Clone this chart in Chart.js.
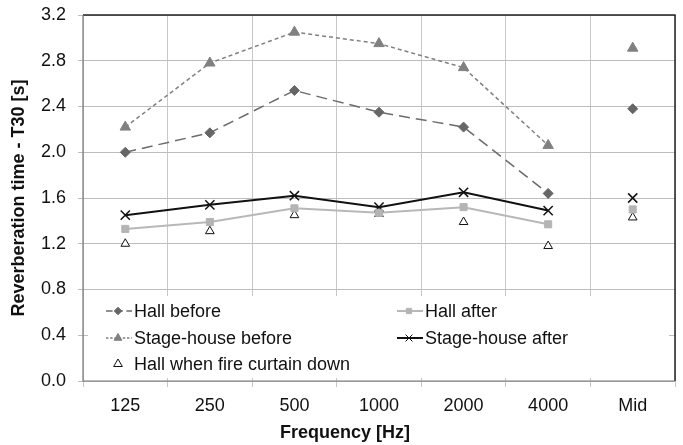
<!DOCTYPE html>
<html>
<head>
<meta charset="utf-8">
<script src="https://cdn.jsdelivr.net/npm/chart.js@4"></script>
<style>
  html, body { margin: 0; padding: 0; background: #fff; }
  #wrap { width: 683px; height: 445px; }
</style>
</head>
<body>
<div id="wrap"><canvas id="chart" width="683" height="445"></canvas></div>
<script>
'use strict';

// ── Data ─────────────────────────────────────────────────────
const categories  = ['125', '250', '500', '1000', '2000', '4000', 'Mid'];
const hallBefore  = [2.00, 2.17, 2.54, 2.35, 2.22, 1.64, 2.38];
const hallAfter   = [1.33, 1.39, 1.51, 1.47, 1.52, 1.37, 1.50];
const stageBefore = [2.22, 2.78, 3.05, 2.95, 2.74, 2.06, 2.91];
const stageAfter  = [1.45, 1.54, 1.62, 1.52, 1.65, 1.49, 1.60];
const hallCurtain = [1.20, 1.31, 1.45, 1.46, 1.39, 1.18, 1.43];
const yTicks      = [0.0, 0.4, 0.8, 1.2, 1.6, 2.0, 2.4, 2.8, 3.2];

const FONT = 'Arial, "Liberation Sans", sans-serif';

// the Mid column is not joined to the 4000 Hz point
const skipMid = color => ctx => ctx.p1DataIndex === categories.length - 1 ? 'rgba(0,0,0,0)' : color;

const series = [
  { label: 'Hall before', data: hallBefore, color: '#6b6b6b', width: 1.5, dash: [11, 6],
    point: 'rectRot', radius: 5, fill: '#666' },
  { label: 'Hall after', data: hallAfter, color: '#b8b8b8', width: 2, dash: [],
    point: 'rect', radius: 5, fill: '#b4b4b4' },
  { label: 'Stage-house before', data: stageBefore, color: '#808080', width: 1.5, dash: [4, 3],
    point: 'triangle', radius: 6, fill: '#808080' },
  { label: 'Stage-house after', data: stageAfter, color: '#111', width: 2, dash: [],
    point: 'crossRot', radius: 6.5, fill: '#111' },
  { label: 'Hall when fire curtain down', data: hallCurtain, color: '#111', width: 1, dash: [],
    point: 'triangle', radius: 5, fill: '#fff', noLine: true }
];

const datasets = series.map(s => ({
  label: s.label,
  data: s.data,
  showLine: !s.noLine,
  borderColor: s.color,
  borderWidth: s.width,
  borderDash: s.dash,
  tension: 0,
  segment: { borderColor: skipMid(s.color) },
  pointStyle: s.point,
  pointRadius: s.radius,
  pointHoverRadius: s.radius,
  pointBackgroundColor: s.fill,
  pointBorderColor: s.noLine ? '#111' : s.fill,
  pointBorderWidth: s.noLine ? 1 : (s.point === 'crossRot' ? 1.5 : 1)
}));

// ── Legend box inside the plot ───────────────────────────────
const legendSlots = [
  { x: 106, y: 311 }, { x: 397, y: 311 },
  { x: 106, y: 338 }, { x: 397, y: 338 },
  { x: 106, y: 364 }
];

const insideLegend = {
  id: 'insideLegend',
  beforeDatasetsDraw(chart) {
    const ctx = chart.ctx;
    ctx.save();
    ctx.fillStyle = '#fff';
    ctx.fillRect(88, 296, 581, 82);
    ctx.font = '18px ' + FONT;
    ctx.textBaseline = 'middle';
    series.forEach((s, i) => {
      const p = legendSlots[i];
      if (!s.noLine) {
        ctx.strokeStyle = s.color;
        ctx.lineWidth = s.width;
        ctx.setLineDash(s.dash.length ? [s.dash[0] * 0.6, s.dash[1] * 0.6] : []);
        ctx.beginPath();
        ctx.moveTo(p.x, p.y);
        ctx.lineTo(p.x + 26, p.y);
        ctx.stroke();
        ctx.setLineDash([]);
      }
      ctx.fillStyle = s.fill;
      ctx.strokeStyle = s.noLine ? '#111' : s.fill;
      ctx.lineWidth = 1;
      Chart.helpers.drawPoint(ctx, {
        pointStyle: s.point, radius: s.radius * (s.noLine ? 1 : 0.75), rotation: 0, borderWidth: 1
      }, p.x + 12, p.y);
      ctx.fillStyle = '#111';
      ctx.textAlign = 'left';
      ctx.fillText(s.label, p.x + 28, p.y + 1);
    });
    ctx.restore();
  },
  afterDraw(chart) {
    const { ctx, chartArea: a } = chart;
    ctx.save();
    // frame
    ctx.lineWidth = 1.5;
    ctx.strokeStyle = '#222';
    ctx.beginPath();
    ctx.moveTo(a.left, a.top);
    ctx.lineTo(a.right, a.top);
    ctx.lineTo(a.right, a.bottom);
    ctx.stroke();
    ctx.strokeStyle = '#777';
    ctx.lineWidth = 1.2;
    ctx.beginPath();
    ctx.moveTo(a.left, a.top);
    ctx.lineTo(a.left, a.bottom);
    ctx.lineTo(a.right, a.bottom);
    ctx.stroke();
    // axis titles
    ctx.fillStyle = '#111';
    ctx.font = 'bold 18px ' + FONT;
    ctx.textAlign = 'center';
    ctx.textBaseline = 'middle';
    ctx.fillText('Frequency [Hz]', 345, 433);
    ctx.translate(19, (a.top + a.bottom) / 2);
    ctx.rotate(-Math.PI / 2);
    ctx.fillText('Reverberation time - T30 [s]', 0, 0);
    ctx.restore();
  }
};

new Chart(document.getElementById('chart'), {
  type: 'line',
  data: { labels: categories, datasets },
  plugins: [insideLegend],
  options: {
    responsive: false,
    animation: false,
    layout: { padding: { top: 15, right: 5, left: 0, bottom: 0 } },
    plugins: { legend: { display: false }, tooltip: { enabled: false } },
    scales: {
      x: {
        offset: true,
        grid: { offset: true, color: '#c8c8c8', lineWidth: 1, tickLength: 6, drawTicks: true },
        border: { display: false },
        ticks: { color: '#111', font: { size: 18, family: FONT }, padding: 8, maxRotation: 0 },
        afterFit(scale) {
          scale.height = 64;
          scale.paddingLeft = 0;
          scale.paddingRight = 0;
        }
      },
      y: {
        min: 0, max: 3.2,
        grid: {
          color: ctx => {
            const v = Math.round(ctx.tick.value * 10);
            return v % 4 === 0 ? '#bdbdbd' : '#e0e0e0';
          },
          lineWidth: 1, tickLength: 5
        },
        border: { display: false },
        ticks: {
          stepSize: 0.2,
          color: '#111',
          font: { size: 18, family: FONT },
          padding: 12,
          callback: v => {
            const r = Math.round(v * 10) / 10;
            return yTicks.some(t => Math.abs(t - r) < 1e-6) ? r.toFixed(1) : '';
          }
        },
        afterFit(scale) {
          scale.width = 83;
          scale.paddingTop = 0;
          scale.paddingBottom = 0;
        }
      }
    }
  }
});
</script>
</body>
</html>
